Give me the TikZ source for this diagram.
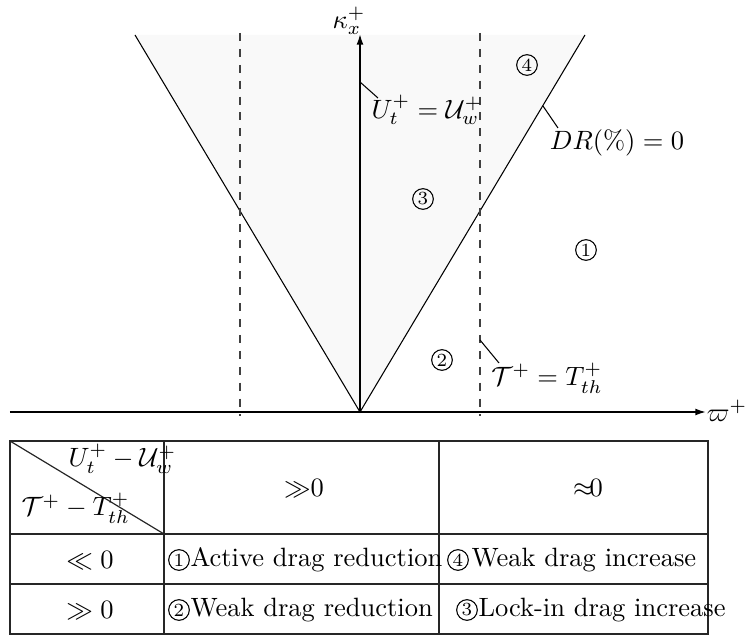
\documentclass[tikz,border=0pt]{standalone}
\usetikzlibrary{arrows.meta}
\begin{document}
\begin{tikzpicture}[x=0.3775pt,y=-0.3775pt,
  cnum/.style={circle,draw,line width=0.4pt,inner sep=0pt,minimum size=7.8pt,font=\scriptsize},
  lbl/.style={inner sep=0pt},
  axis/.style={line width=0.6pt,-{Latex[length=4pt,width=2.6pt]}},
  vline/.style={line width=0.4pt},
  dline/.style={dashed,line width=0.4pt,black!75},
  leader/.style={line width=0.4pt},
  tline/.style={line width=0.45pt,black!85},
  cell/.style={inner sep=0pt,anchor=west}]
\useasboundingbox (0,0) rectangle (748,637);
% shaded wedge
\fill[gray!5] (135,35) -- (360,412) -- (585,35) -- cycle;
\coordinate (tl) at (135,35);
\coordinate (tr) at (585,35);
\coordinate (o) at (360,412);
\draw[vline] (tl) -- (o) -- (tr);
% dashed thresholds
\coordinate (d1t) at (240,33); \coordinate (d1b) at (240,416);
\coordinate (d2t) at (480,33); \coordinate (d2b) at (480,416);
\draw[dline] (d1t) -- (d1b);
\draw[dline] (d2t) -- (d2b);
% axes
\coordinate (xs) at (10,412);
\coordinate (xe) at (706,412);
\coordinate (ye) at (360,34);
\draw[axis] (xs) -- (xe);
\draw[axis] (o) -- (ye);
\node[lbl] (kx) at (349,21) {$\kappa_x^+$};
\node[lbl] (om) at (727,411) {$\varpi^+$};
% labels with leaders
\node[lbl] (ul) at (427,110) {$U_t^+=\mathcal{U}_w^+$};
\coordinate (ua) at (360,82);
\coordinate (ub) at (378,98);
\draw[leader] (ua) -- (ub);
\node[lbl] (dr) at (617,143) {$DR(\%)=0$};
\coordinate (da) at (543,106);
\coordinate (db) at (558,128);
\draw[leader] (da) -- (db);
\node[lbl] (tt) at (547,378) {$\mathcal{T}^+=T_{th}^+$};
\coordinate (ta) at (480,340);
\coordinate (tb) at (499,363);
\draw[leader] (ta) -- (tb);
% region numbers
\node[cnum] (r4) at (527,65) {4};
\node[cnum] (r3) at (423,199) {3};
\node[cnum] (r1) at (586,250) {1};
\node[cnum] (r2) at (442,360) {2};
% table
\coordinate (t00) at (10,441);
\coordinate (t11) at (708,634);
\draw[tline] (t00) rectangle (t11);
\coordinate (c1t) at (164,441); \coordinate (c1b) at (164,634);
\coordinate (c2t) at (439,441); \coordinate (c2b) at (439,634);
\coordinate (r1l) at (10,534); \coordinate (r1r) at (708,534);
\coordinate (r2l) at (10,584); \coordinate (r2r) at (708,584);
\coordinate (dg) at (164,534);
\draw[tline] (c1t) -- (c1b);
\draw[tline] (c2t) -- (c2b);
\draw[tline] (r1l) -- (r1r);
\draw[tline] (r2l) -- (r2r);
\draw[tline] (t00) -- (dg);
\node[lbl,anchor=base west] (hu) at (68,467) {$U_t^+ -\mathcal{U}_w^+$};
\node[lbl,anchor=base west] (ht) at (21,516) {$\mathcal{T}^+ - T_{th}^+$};
\node[lbl] (h1) at (304,488) {$\gg$0};
\node[lbl] (h2) at (588,488) {$\approx$\kern-1.5pt0};
\node[lbl] (rl1) at (90,560) {$\ll 0$};
\node[lbl] (rl2) at (90,610) {$\gg 0$};
\node[cnum] (t1) at (179,560) {1};
\node[cell] (t1x) at (190,560) {Active drag reduction};
\node[cnum] (t4) at (458,560) {4};
\node[cell] (t4x) at (471,560) {Weak drag increase};
\node[cnum] (t2) at (179,610) {2};
\node[cell] (t2x) at (190,610) {Weak drag reduction};
\node[cnum] (t3) at (467,610) {3};
\node[cell] (t3x) at (478,610) {Lock-in drag increase};
\end{tikzpicture}
\end{document}
